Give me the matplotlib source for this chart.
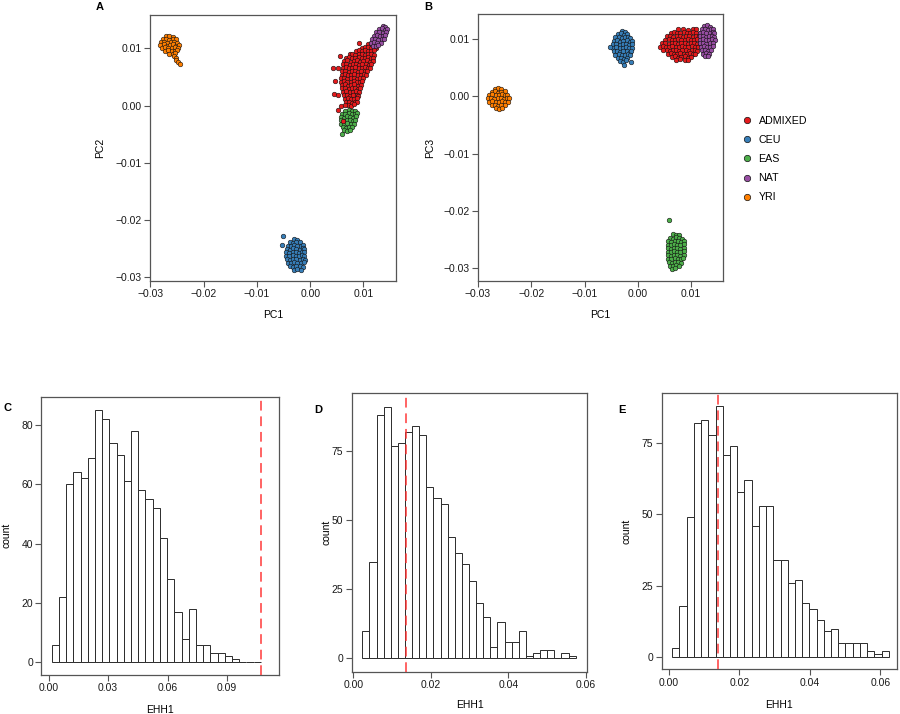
import matplotlib

matplotlib.use("Agg")
import matplotlib.pyplot as plt
import numpy as np
from matplotlib.lines import Line2D
from matplotlib.ticker import FuncFormatter

plt.rcParams["font.family"] = ["Liberation Sans", "DejaVu Sans"]

GROUPS = ["ADMIXED", "CEU", "EAS", "NAT", "YRI"]
GROUP_COLORS = ["#E41A1C", "#377EB8", "#4DAF4A", "#984EA3", "#FF7F00"]

# PCA coordinates, in units of 1e-4
# panel A: PC1 vs PC2
a_admixed = [
    (109, 108), (115, 109), (121, 107),
    (97, 101), (103, 103), (109, 102), (115, 101), (121, 103), (124, 100),
    (86, 96), (91, 97), (97, 95), (103, 97), (109, 96), (115, 95), (120, 97),
    (74, 90), (79, 91), (85, 89), (91, 90), (97, 91), (103, 89), (109, 90), (115, 91), (119, 89),
    (67, 84), (73, 85), (79, 83), (85, 84), (91, 85), (97, 83), (103, 84), (109, 85), (114, 83), (118, 84),
    (64, 78), (70, 79), (76, 77), (82, 78), (88, 79), (94, 77), (100, 78), (106, 79), (112, 77), (117, 78),
    (62, 72), (68, 73), (74, 71), (80, 72), (86, 73), (92, 71), (98, 72), (104, 73), (110, 71), (115, 72),
    (61, 66), (67, 67), (73, 65), (79, 66), (85, 67), (91, 65), (97, 66), (103, 67), (108, 65), (112, 66),
    (60, 60), (66, 61), (72, 59), (78, 60), (84, 61), (90, 59), (96, 60), (102, 61), (107, 60),
    (59, 54), (65, 55), (71, 53), (77, 54), (83, 55), (89, 53), (95, 54), (101, 55), (105, 53),
    (58, 48), (64, 49), (70, 47), (76, 48), (82, 49), (88, 47), (94, 48), (100, 49),
    (58, 42), (64, 43), (70, 41), (76, 42), (82, 43), (88, 41), (94, 42), (98, 43),
    (59, 36), (65, 37), (71, 35), (77, 36), (83, 37), (89, 35), (95, 36),
    (60, 30), (66, 31), (72, 29), (78, 30), (84, 31), (90, 29), (93, 30),
    (62, 24), (68, 25), (74, 23), (80, 24), (86, 25), (91, 23),
    (63, 18), (69, 19), (75, 17), (81, 18), (87, 19), (90, 17),
    (65, 12), (71, 13), (77, 11), (83, 12), (88, 13),
    (67, 6), (73, 7), (79, 5), (85, 6), (88, 7),
    (71, 1), (77, 0), (83, 2),
    (91, 110), (56, 87), (42, 66), (52, 66), (47, 43), (44, 20), (53, 18),
    (58, 0), (52, -8), (66, 1),
]
a_ceu = [
    (-30, -233), (-24, -235),
    (-38, -239), (-32, -240), (-26, -238), (-20, -239),
    (-42, -245), (-36, -246), (-30, -244), (-24, -245), (-18, -246), (-13, -244),
    (-44, -251), (-38, -252), (-32, -250), (-26, -251), (-20, -252), (-14, -250), (-11, -251),
    (-45, -257), (-39, -258), (-33, -256), (-27, -257), (-21, -258), (-15, -256), (-11, -257),
    (-45, -263), (-39, -264), (-33, -262), (-27, -263), (-21, -264), (-15, -262), (-11, -263),
    (-44, -269), (-38, -270), (-32, -268), (-26, -269), (-20, -270), (-14, -268), (-10, -270),
    (-42, -275), (-36, -276), (-30, -274), (-24, -275), (-18, -276), (-12, -274),
    (-38, -281), (-32, -282), (-26, -280), (-20, -281), (-14, -283),
    (-30, -287), (-24, -286), (-18, -288),
    (-51, -228), (-52, -244),
]
a_eas = [
    (66, -9), (72, -8), (78, -10), (84, -9),
    (60, -14), (66, -15), (72, -13), (78, -14), (84, -15), (87, -13),
    (57, -20), (63, -21), (69, -19), (75, -20), (81, -21), (86, -19),
    (57, -26), (63, -27), (69, -25), (75, -26), (81, -27), (85, -25),
    (58, -32), (64, -33), (70, -31), (76, -32), (82, -33),
    (61, -38), (67, -39), (73, -37), (79, -38),
    (63, -43), (69, -44), (74, -42),
    (59, -50),
]
a_nat = [
    (136, 139), (141, 138),
    (129, 134), (135, 135), (141, 133), (144, 134),
    (124, 128), (130, 129), (136, 127), (142, 128),
    (119, 122), (125, 123), (131, 121), (137, 122), (141, 123),
    (116, 116), (122, 117), (128, 115), (134, 116), (138, 117),
    (114, 110), (120, 111), (126, 109), (132, 110),
    (117, 105), (123, 104), (128, 106),
]
a_yri = [
    (-270, 121), (-264, 122), (-258, 120),
    (-276, 116), (-270, 117), (-264, 115), (-258, 116), (-252, 117),
    (-280, 111), (-274, 112), (-268, 110), (-262, 111), (-256, 112), (-250, 110),
    (-281, 106), (-275, 107), (-269, 105), (-263, 106), (-257, 107), (-251, 105), (-247, 106),
    (-278, 101), (-272, 102), (-266, 100), (-260, 101), (-254, 102), (-248, 100),
    (-272, 96), (-266, 97), (-260, 95), (-254, 96), (-249, 97),
    (-264, 91), (-258, 90), (-253, 92),
    (-256, 86), (-251, 83), (-252, 79), (-248, 76), (-244, 72),
]
a_extra_admixed = [(61, -27)]

# panel B: PC1 vs PC3
b_admixed = [
    (75, 116), (85, 117), (95, 115), (104, 116), (110, 117),
    (62, 110), (68, 111), (74, 109), (80, 110), (86, 111), (92, 109), (98, 110), (104, 111), (110, 109), (116, 110),
    (55, 104), (61, 105), (67, 103), (73, 104), (79, 105), (85, 103), (91, 104), (97, 105), (103, 103), (109, 104),
    (115, 105), (119, 103),
    (52, 98), (58, 99), (64, 97), (70, 98), (76, 99), (82, 97), (88, 98), (94, 99), (100, 97), (106, 98),
    (112, 99), (118, 97),
    (46, 92), (52, 93), (58, 91), (64, 92), (70, 93), (76, 91), (82, 92), (88, 93), (94, 91), (100, 92),
    (106, 93), (112, 91), (117, 92),
    (41, 86), (47, 87), (53, 85), (59, 86), (65, 87), (71, 85), (77, 86), (83, 87), (89, 85), (95, 86),
    (101, 87), (107, 85), (113, 86),
    (48, 80), (54, 81), (60, 79), (66, 80), (72, 81), (78, 79), (84, 80), (90, 81), (96, 79), (102, 80),
    (108, 81), (112, 79),
    (56, 74), (62, 75), (68, 73), (74, 74), (80, 75), (86, 73), (92, 74), (98, 75), (104, 73), (108, 74),
    (64, 68), (70, 69), (76, 67), (82, 68), (88, 69), (94, 67), (100, 68),
    (72, 63), (80, 64), (88, 62), (95, 63),
]
b_ceu = [
    (-30, 113), (-24, 112),
    (-38, 108), (-32, 109), (-26, 107), (-20, 108),
    (-42, 102), (-36, 103), (-30, 101), (-24, 102), (-18, 103), (-14, 101),
    (-45, 96), (-39, 97), (-33, 95), (-27, 96), (-21, 97), (-15, 95), (-11, 96),
    (-46, 90), (-40, 91), (-34, 89), (-28, 90), (-22, 91), (-16, 89), (-11, 90),
    (-46, 84), (-40, 85), (-34, 83), (-28, 84), (-22, 85), (-16, 83), (-11, 84),
    (-45, 78), (-39, 79), (-33, 77), (-27, 78), (-21, 79), (-15, 77), (-12, 78),
    (-42, 72), (-36, 73), (-30, 71), (-24, 72), (-18, 73), (-14, 71),
    (-38, 66), (-32, 67), (-26, 65), (-20, 66),
    (-34, 61), (-28, 60), (-22, 62),
    (-53, 86), (-13, 60), (-25, 54),
]
b_eas = [
    (66, -240), (72, -242), (78, -241),
    (60, -247), (66, -248), (72, -246), (78, -247), (83, -248),
    (57, -253), (63, -254), (69, -252), (75, -253), (81, -254), (86, -252),
    (56, -259), (62, -260), (68, -258), (74, -259), (80, -260), (86, -258),
    (56, -265), (62, -266), (68, -264), (74, -265), (80, -266), (87, -264),
    (56, -271), (62, -272), (68, -270), (74, -271), (80, -272), (87, -270),
    (56, -277), (62, -278), (68, -276), (74, -277), (80, -278), (86, -276),
    (57, -283), (63, -284), (69, -282), (75, -283), (81, -284), (85, -282),
    (58, -289), (64, -290), (70, -288), (76, -289), (82, -290),
    (60, -295), (66, -296), (72, -294), (78, -295),
    (64, -301), (70, -300),
    (59, -216),
]
b_nat = [
    (124, 122), (130, 123), (136, 121),
    (120, 116), (126, 117), (132, 115), (138, 116), (142, 117),
    (117, 110), (123, 111), (129, 109), (135, 110), (141, 111), (144, 109),
    (116, 104), (122, 105), (128, 103), (134, 104), (140, 105), (144, 103),
    (116, 98), (122, 99), (128, 97), (134, 98), (140, 99), (145, 97),
    (117, 92), (123, 93), (129, 91), (135, 92), (141, 93),
    (118, 86), (124, 87), (130, 85), (136, 86), (141, 87),
    (120, 80), (126, 81), (132, 79), (138, 80),
    (122, 74), (128, 75), (134, 73),
    (126, 70), (132, 69),
]
b_yri = [
    (-268, 13), (-262, 14), (-256, 12),
    (-274, 7), (-268, 8), (-262, 6), (-256, 7), (-250, 8),
    (-279, 2), (-273, 3), (-267, 1), (-261, 2), (-255, 3), (-249, 1), (-245, 2),
    (-281, -4), (-275, -3), (-269, -5), (-263, -4), (-257, -3), (-251, -5), (-245, -4), (-242, -3),
    (-279, -10), (-273, -9), (-267, -11), (-261, -10), (-255, -9), (-249, -11), (-244, -10),
    (-274, -16), (-268, -15), (-262, -17), (-256, -16), (-250, -15),
    (-266, -21), (-260, -22), (-254, -20),
]

# EHH1 null distributions (counts per bin) and observed values
c_counts = [6, 22, 60, 64, 62, 69, 85, 82, 74, 70, 61, 78, 58, 55, 52, 42, 28, 17, 8, 18,
            6, 6, 3, 3, 2, 1, 0, 0, 0]
c_bin_start, c_bin_width = 0.0015, 0.003642
c_observed = 0.1070

d_counts = [10, 35, 88, 91, 77, 78, 82, 84, 81, 62, 58, 56, 44, 38, 34, 28, 20, 15, 4, 13,
            6, 6, 10, 1, 2, 3, 3, 0, 2, 1]
d_bin_start, d_bin_width = 0.00232, 0.001834
d_observed = 0.0136

e_counts = [3, 18, 49, 82, 83, 78, 88, 71, 74, 58, 62, 46, 53, 53, 34, 34, 26, 27, 19, 17,
            13, 9, 10, 5, 5, 5, 5, 2, 1, 2]
e_bin_start, e_bin_width = 0.00102, 0.002045
e_observed = 0.0141

FRAME = "#555555"


def fmt2(x, pos):
    if abs(x) < 1e-12:
        x = 0.0
    return f"{x:.2f}".replace("-", "\u2212")


def style_axes(ax):
    for spine in ax.spines.values():
        spine.set_color(FRAME)
        spine.set_linewidth(0.9)
    ax.tick_params(direction="out", length=4, width=0.8, color=FRAME,
                   labelsize=7.5, labelcolor="#1a1a1a", pad=2)


def pca_panel(ax, groups, ylabel, xlim, ylim):
    for pts, color in groups:
        arr = np.array(pts, dtype=float) * 1e-4
        ax.scatter(arr[:, 0], arr[:, 1], s=11, c=color, edgecolors="#111111",
                   linewidths=0.4, zorder=2)
    ax.set_xlim(*xlim)
    ax.set_ylim(*ylim)
    ax.set_xticks([-0.03, -0.02, -0.01, 0.0, 0.01])
    ax.set_yticks([-0.03, -0.02, -0.01, 0.0, 0.01])
    ax.xaxis.set_major_formatter(FuncFormatter(fmt2))
    ax.yaxis.set_major_formatter(FuncFormatter(fmt2))
    style_axes(ax)
    ax.set_xlabel("PC1", fontsize=7.5)
    ax.set_ylabel(ylabel, fontsize=7.5)
    ax.xaxis.set_label_coords(0.5, -0.128)
    ax.xaxis.label.set_va("center")


def hist_panel(ax, counts, start, width, observed, xlim, ylim, xticks, yticks):
    lefts = start + width * np.arange(len(counts))
    ax.bar(lefts, counts, width=width, align="edge", color="white",
           edgecolor="#2b2b2b", linewidth=0.7, zorder=2)
    ax.axvline(observed, color="#FF3030", alpha=0.75, linewidth=1.4,
               dashes=(5, 3), zorder=3)
    ax.set_xlim(*xlim)
    ax.set_ylim(*ylim)
    ax.set_xticks(xticks)
    ax.set_yticks(yticks)
    ax.xaxis.set_major_formatter(FuncFormatter(fmt2))
    style_axes(ax)
    ax.set_xlabel("EHH1", fontsize=7.5)
    ax.set_ylabel("count", fontsize=7.5)


fig = plt.figure(figsize=(9, 7.14), dpi=100)

ax_a = fig.add_axes([0.1670, 0.6064, 0.2730, 0.3730])
pca_panel(ax_a,
          [(a_admixed, GROUP_COLORS[0]), (a_ceu, GROUP_COLORS[1]), (a_eas, GROUP_COLORS[2]),
           (a_nat, GROUP_COLORS[3]), (a_yri, GROUP_COLORS[4]), (a_extra_admixed, GROUP_COLORS[0])],
          "PC2", (-0.0300, 0.0161), (-0.0307, 0.0159))
ax_a.yaxis.set_label_coords(-0.184, 0.5)

ax_b = fig.add_axes([0.5311, 0.6064, 0.2722, 0.3736])
pca_panel(ax_b,
          [(b_admixed, GROUP_COLORS[0]), (b_ceu, GROUP_COLORS[1]), (b_eas, GROUP_COLORS[2]),
           (b_nat, GROUP_COLORS[3]), (b_yri, GROUP_COLORS[4])],
          "PC3", (-0.0300, 0.0160), (-0.0322, 0.01424))
ax_b.yaxis.set_label_coords(-0.176, 0.5)

handles = [Line2D([], [], linestyle="none", marker="o", markersize=4.6,
                  markerfacecolor=col, markeredgecolor="#111111", markeredgewidth=0.5)
           for col in GROUP_COLORS]
fig.legend(handles, GROUPS, loc="upper left", bbox_to_anchor=(0.8258, 0.838),
           frameon=False, fontsize=7.7, handlelength=0.8, handletextpad=0.64,
           labelspacing=0.86, borderpad=0, borderaxespad=0)

ax_c = fig.add_axes([0.0459, 0.0546, 0.2638, 0.3898])
hist_panel(ax_c, c_counts, c_bin_start, c_bin_width, c_observed,
           (-0.00372, 0.1161), (-4.28, 89.5), [0.0, 0.03, 0.06, 0.09], [0, 20, 40, 60, 80])
ax_c.xaxis.set_label_coords(0.5, -0.125)
ax_c.yaxis.set_label_coords(-0.1255, 0.5)

ax_d = fig.add_axes([0.3908, 0.0592, 0.2618, 0.3899])
hist_panel(ax_d, d_counts, d_bin_start, d_bin_width, d_observed,
           (-0.00041, 0.06034), (-4.85, 95.9), [0.0, 0.02, 0.04, 0.06], [0, 25, 50, 75])
ax_d.xaxis.set_label_coords(0.5, -0.12)
ax_d.yaxis.set_label_coords(-0.085, 0.5)

ax_e = fig.add_axes([0.7352, 0.0626, 0.2611, 0.3874])
hist_panel(ax_e, e_counts, e_bin_start, e_bin_width, e_observed,
           (-0.00198, 0.0646), (-4.3, 92.7), [0.0, 0.02, 0.04, 0.06], [0, 25, 50, 75])
ax_e.xaxis.set_label_coords(0.5, -0.13)
ax_e.yaxis.set_label_coords(-0.128, 0.5)

for ax in (ax_c, ax_d, ax_e):
    ax.xaxis.label.set_va("center")

for label, x, y in [("A", 100, 7), ("B", 428, 7), ("C", 7, 408), ("D", 318, 410), ("E", 622, 410)]:
    fig.text(x / 900, 1 - y / 714, label, fontsize=8, fontweight="bold", ha="center", va="center")

fig.savefig("out.png", dpi=100)
